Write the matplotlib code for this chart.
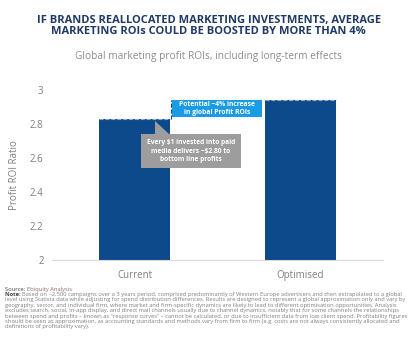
import matplotlib.pyplot as plt
from matplotlib.patches import Rectangle, Polygon

# chart data
categories = ['Current', 'Optimised']
roi_values = [2.83, 2.94]
y_ticks = [2, 2.2, 2.4, 2.6, 2.8, 3]
y_tick_labels = ['2', '2.2', '2.4', '2.6', '2.8', '3']

title = 'IF BRANDS REALLOCATED MARKETING INVESTMENTS, AVERAGE\nMARKETING ROIs COULD BE BOOSTED BY MORE THAN 4%'
subtitle = 'Global marketing profit ROIs, including long-term effects'
blue_note = 'Potential ~4% increase\nin global Profit ROIs'
grey_note = 'Every $1 invested into paid\nmedia delivers ~$2.80 to\nbottom line profits'
note_first = 'Based on ~2,500 campaigns over a 3 years period, comprised predominantly of Western Europe advertisers and then extrapolated to a global'
footer_lines = [
    'level using Statista data while adjusting for spend distribution differences. Results are designed to represent a global approximation only and vary by',
    'geography, sector, and individual firm, where market and firm-specific dynamics are likely to lead to different optimisation opportunities. Analysis',
    'excludes search, social, in-app display, and direct mail channels usually due to channel dynamics, notably that for some channels the relationships',
    'between spend and profits \u2013 known as "response curves" \u2013 cannot be calculated, or due to insufficient data from low client spend. Profitability figures',
    'should be seen as approximation, as accounting standards and methods vary from firm to firm (e.g. costs are not always consistently allocated and',
    'definitions of profitability vary).',
]

NAVY = '#1f3a64'
BAR = '#0d4a8c'
SKY = '#1a9be6'
GREY_BOX = '#9d9d9d'
TXT = '#7f7f7f'
FOOT = 4.15

plt.rcParams['font.family'] = ['Open Sans', 'DejaVu Sans']

fig = plt.figure(figsize=(4.09, 3.43), dpi=100)
ax = fig.add_axes([0.127, 0.242, 0.809, 0.496])

x = range(len(categories))
ax.bar(x, roi_values, width=0.43, color=BAR, zorder=2)
ax.set_xlim(-0.5, 1.5)
ax.set_ylim(2, 3)
ax.set_yticks(y_ticks)
ax.set_yticklabels(y_tick_labels)
ax.set_xticks(list(x))
ax.set_xticklabels(categories)
ax.tick_params(axis='both', length=0, colors=TXT, labelsize=7)
ax.tick_params(axis='y', pad=6)
ax.tick_params(axis='x', pad=7)
for s in ['top', 'right', 'left']:
    ax.spines[s].set_visible(False)
ax.spines['bottom'].set_color('#d9d9d9')
ax.set_ylabel('Profit ROI Ratio', color=TXT, fontsize=7, labelpad=7)

# dashed tops and gap marker
cur, opt = roi_values
ax.plot([-0.215, 0.215], [cur, cur], ls='--', color='#8fa9c8', lw=0.8, zorder=3)
ax.plot([0.785, 1.215], [opt, opt], ls='--', color='#8fa9c8', lw=0.8, zorder=3)
ax.plot([0.222, 0.222], [cur, opt], ls='--', color=BAR, lw=0.8, zorder=3)

# blue callout
ax.add_patch(Rectangle((0.225, cur + 0.012), 0.545, opt - cur - 0.012,
                       facecolor=SKY, edgecolor='none', zorder=4))
ax.text(0.4975, (cur + opt) / 2 + 0.006, blue_note, color='white', fontsize=4.9,
        fontweight='bold', ha='center', va='center', linespacing=1.25, zorder=5)

# grey callout with pointer
ax.add_patch(Rectangle((0.04, 2.54), 0.6, 0.2, facecolor=GREY_BOX,
                       edgecolor='none', zorder=4))
ax.add_patch(Polygon([[0.12, cur - 0.015], [0.12, 2.74], [0.21, 2.74]],
                     closed=True, facecolor=GREY_BOX, edgecolor='none', zorder=4))
ax.text(0.34, 2.64, grey_note, color='white', fontsize=4.8, fontweight='bold',
        ha='center', va='center', linespacing=1.35, zorder=5)

# titles
fig.text(0.51, 0.925, title, color=NAVY, fontsize=8.0, fontweight='bold',
         ha='center', va='center', linespacing=1.0)
fig.text(0.51, 0.835, subtitle, color='#8c8c8c', fontsize=7.3, ha='center', va='center')

# footer
renderer = fig.canvas.get_renderer()
t = fig.text(0.012, 0.157, 'Source: ', color='#404040', fontsize=FOOT, va='center')
x_next = fig.transFigure.inverted().transform(
    [t.get_window_extent(renderer).x1, 0])[0]
fig.text(x_next, 0.157, 'Ebiquity Analysis', color='#8c6a6a', fontsize=FOOT, va='center')
t = fig.text(0.012, 0.1425, 'Note: ', color='#404040', fontsize=FOOT, va='center',
             fontweight='bold')
x_next = fig.transFigure.inverted().transform(
    [t.get_window_extent(renderer).x1, 0])[0]
fig.text(x_next, 0.1425, note_first, color=TXT, fontsize=FOOT, va='center')
y0 = 0.126
for i, line in enumerate(footer_lines):
    fig.text(0.012, y0 - i * 0.0158, line, color=TXT, fontsize=FOOT, va='center')

fig.savefig('out.png', dpi=100)
